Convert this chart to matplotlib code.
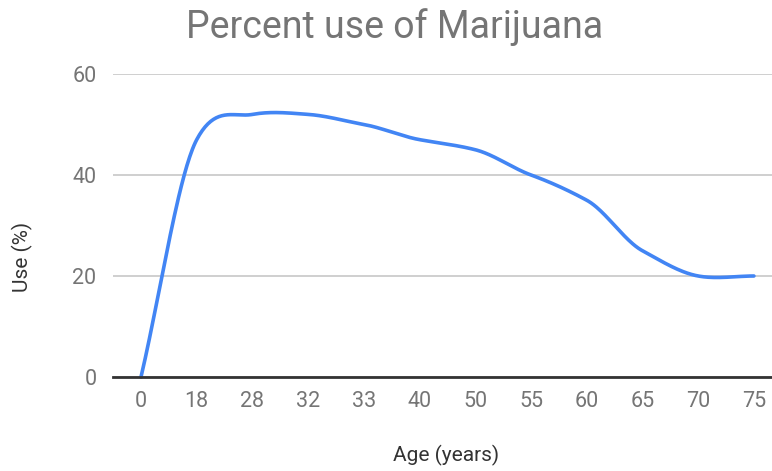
import numpy as np
import matplotlib.pyplot as plt

# Marijuana use by age group
ages = ['0', '18', '28', '32', '33', '40', '50', '55', '60', '65', '70', '75']
use_pct = [0, 47, 52, 52, 50, 47, 45, 40, 35, 25, 20, 20]


def smooth_curve(y, tension=0.8, steps=40):
    # cardinal spline through the points (x = category index)
    y = np.asarray(y, dtype=float)
    n = len(y)
    m = np.zeros(n)
    m[1:-1] = tension * (y[2:] - y[:-2]) / 2
    m[0] = y[1] - y[0]
    m[-1] = tension * (y[-1] - y[-2])
    xs, ys = [], []
    for i in range(n - 1):
        t = np.linspace(0, 1, steps, endpoint=(i == n - 2))
        h00 = 2 * t**3 - 3 * t**2 + 1
        h10 = t**3 - 2 * t**2 + t
        h01 = -2 * t**3 + 3 * t**2
        h11 = t**3 - t**2
        xs.append(i + t)
        ys.append(h00 * y[i] + h10 * m[i] + h01 * y[i + 1] + h11 * m[i + 1])
    return np.concatenate(xs), np.concatenate(ys)


W, H = 772, 471
fig = plt.figure(figsize=(W / 100, H / 100), dpi=100)
step = 55.72
left = 141 - step / 2
ax = fig.add_axes([left / W, (H - 377) / H, 12 * step / W, (377 - 74) / H])

x = np.arange(len(ages))
cx, cy = smooth_curve(use_pct)
ax.plot(cx, cy, color='#4285F4', lw=2.6, solid_capstyle='round', zorder=3, clip_on=False)

ax.set_xlim(-0.5, len(ages) - 0.5)
ax.set_ylim(0, 60)
ax.set_yticks([0, 20, 40, 60])
ax.set_xticks(x)
ax.set_xticklabels(ages)

ax.grid(axis='y', color='#cccccc', lw=1.3)
ax.set_axisbelow(True)
for s in ['top', 'right', 'left']:
    ax.spines[s].set_visible(False)
ax.spines['bottom'].set_color('#333333')
ax.spines['bottom'].set_linewidth(2)
ax.spines['bottom'].set_zorder(4)
ax.tick_params(length=0, labelsize=15.5, labelcolor='#757575')
ax.tick_params(axis='y', pad=12)
ax.tick_params(axis='x', pad=10)
for lab in ax.get_xticklabels() + ax.get_yticklabels():
    lab.set_fontfamily('Roboto')

fig.text(395 / W, 1 - 27 / H, 'Percent use of Marijuana', ha='center', va='center',
         fontsize=27, color='#757575', family='Roboto')
fig.text(446 / W, 1 - 455 / H, 'Age (years)', ha='center', va='center',
         fontsize=15, color='#333333', family='Roboto')
fig.text(22 / W, 1 - 257 / H, 'Use (%)', ha='center', va='center', rotation=90,
         fontsize=15, color='#333333', family='Roboto')

fig.savefig('out.png', dpi=100)
